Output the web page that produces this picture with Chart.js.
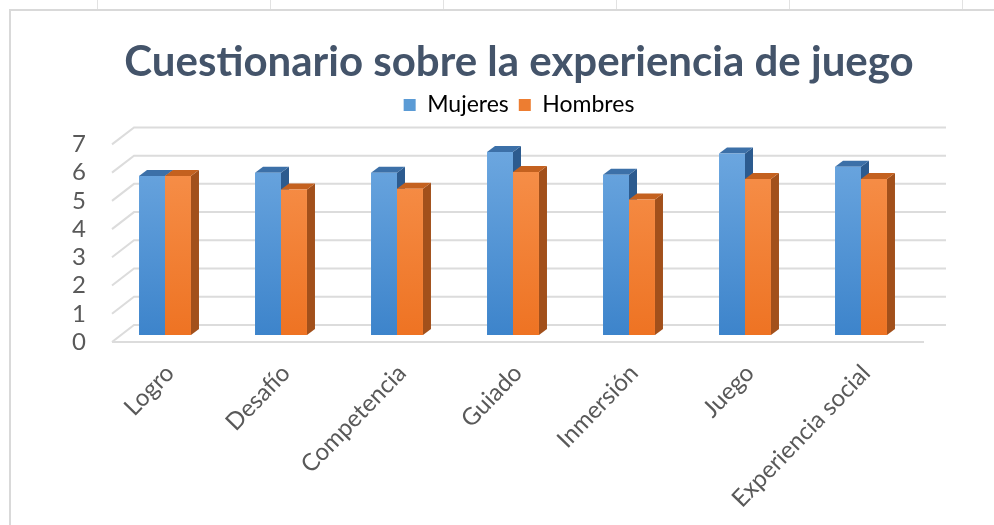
<!DOCTYPE html>
<html>
<head>
<meta charset="utf-8">
<script src="https://cdn.jsdelivr.net/npm/chart.js@4/dist/chart.umd.min.js"></script>
<style>
  html, body { margin: 0; padding: 0; background: #fff; overflow: hidden; }
  #wrap { position: relative; width: 994px; height: 525px; }
</style>
</head>
<body>
<div id="wrap"><canvas id="c" width="994" height="525"></canvas></div>
<script>
// Average scores per dimension of the game-experience questionnaire
const categories = ['Logro', 'Desafío', 'Competencia', 'Guiado', 'Inmersión', 'Juego', 'Experiencia social'];
const seriesNames = ['Mujeres', 'Hombres'];
const mujeres = [5.63, 5.75, 5.75, 6.48, 5.68, 6.43, 5.96];
const hombres = [5.63, 5.15, 5.18, 5.77, 4.80, 5.53, 5.53];
const yTicks = [0, 1, 2, 3, 4, 5, 6, 7];

// 3D look: offsets of the front edge / back wall relative to the bar plane, and bar depth
const FRONT = { dx: 5, dy: 7 };
const BACK = { dx: 27, dy: -10 };
const DEPTH = { dx: 8, dy: -6 };
// empty band between the legend and the plot, where the back wall rises
const WALL_GAP = 11;

const FACE_TOP = ['#6fa9e1', '#f7934f'];
const FACE_BOTTOM = ['#3d84cb', '#ee7323'];
const TOP_FACE = ['#3c70a8', '#c4611f'];
const SIDE_FACE = ['#2c5b8f', '#a2501b'];
const LEGEND_COLORS = ['#5b9bd5', '#ed7d31'];

function frontFill(i) {
  return (ctx) => {
    const area = ctx.chart.chartArea;
    if (!area) return LEGEND_COLORS[i];
    const g = ctx.chart.ctx.createLinearGradient(0, area.top, 0, area.bottom);
    g.addColorStop(0, FACE_TOP[i]);
    g.addColorStop(1, FACE_BOTTOM[i]);
    return g;
  };
}

// Spacer box placed between the legend and the chart area
const wallGap = {
  id: 'wallGap',
  beforeInit(chart) {
    const box = {
      position: 'top',
      weight: 0,
      fullSize: false,
      options: {},
      top: 0, left: 0, right: 0, bottom: 0, width: 0, height: 0,
      isHorizontal() { return true; },
      update(maxWidth) { this.width = maxWidth; this.height = WALL_GAP; },
      draw() {}
    };
    Chart.layouts.addBox(chart, box);
  }
};

// Worksheet frame behind the chart object
const sheetFrame = {
  id: 'sheetFrame',
  beforeDraw(chart) {
    const { ctx, width, height } = chart;
    ctx.save();
    ctx.fillStyle = '#ffffff';
    ctx.fillRect(0, 0, width, height);
    ctx.strokeStyle = '#e2e2e2';
    ctx.lineWidth = 1;
    [97, 270, 443, 616, 789, 962].forEach((cx) => {
      ctx.beginPath();
      ctx.moveTo(cx + 0.5, 0);
      ctx.lineTo(cx + 0.5, 9);
      ctx.stroke();
    });
    ctx.strokeStyle = '#d9d9d9';
    ctx.lineWidth = 2;
    ctx.beginPath();
    ctx.moveTo(10, height);
    ctx.lineTo(10, 10);
    ctx.lineTo(width, 10);
    ctx.stroke();
    ctx.restore();
  }
};

// Back wall gridlines, floor edge and the extruded sides/tops of the columns
const scene3d = {
  id: 'scene3d',
  beforeDatasetsDraw(chart) {
    const { ctx, chartArea: { left, right }, scales: { y } } = chart;
    ctx.save();
    ctx.strokeStyle = '#dcdcdc';
    ctx.lineWidth = 2;
    yTicks.forEach((v) => {
      const py = y.getPixelForValue(v);
      ctx.beginPath();
      ctx.moveTo(left + FRONT.dx, py + FRONT.dy);
      ctx.lineTo(left + BACK.dx, py + BACK.dy);
      ctx.lineTo(right + BACK.dx, py + BACK.dy);
      ctx.stroke();
    });
    const p0 = y.getPixelForValue(0);
    ctx.beginPath();
    ctx.moveTo(left + FRONT.dx, p0 + FRONT.dy);
    ctx.lineTo(right + FRONT.dx, p0 + FRONT.dy);
    ctx.stroke();

    chart.data.datasets.forEach((ds, i) => {
      const meta = chart.getDatasetMeta(i);
      meta.data.forEach((bar) => {
        const { x, y: top, base, width } = bar.getProps(['x', 'y', 'base', 'width'], true);
        const l = x - width / 2;
        const r = x + width / 2;
        ctx.fillStyle = SIDE_FACE[i];
        ctx.beginPath();
        ctx.moveTo(r, top);
        ctx.lineTo(r + DEPTH.dx, top + DEPTH.dy);
        ctx.lineTo(r + DEPTH.dx, base + DEPTH.dy);
        ctx.lineTo(r, base);
        ctx.closePath();
        ctx.fill();
        ctx.fillStyle = TOP_FACE[i];
        ctx.beginPath();
        ctx.moveTo(l, top);
        ctx.lineTo(l + DEPTH.dx, top + DEPTH.dy);
        ctx.lineTo(r + DEPTH.dx, top + DEPTH.dy);
        ctx.lineTo(r, top);
        ctx.closePath();
        ctx.fill();
      });
    });
    ctx.restore();
  }
};

const FONT = 'Lato, "Open Sans", sans-serif';

new Chart(document.getElementById('c'), {
  type: 'bar',
  data: {
    labels: categories,
    datasets: [
      { label: seriesNames[0], data: mujeres, backgroundColor: frontFill(0), borderWidth: 0 },
      { label: seriesNames[1], data: hombres, backgroundColor: frontFill(1), borderWidth: 0 }
    ]
  },
  options: {
    responsive: false,
    animation: false,
    devicePixelRatio: 1,
    layout: { padding: { left: 44, right: 0, top: 0, bottom: 0 } },
    datasets: { bar: { categoryPercentage: 0.448, barPercentage: 1.0 } },
    plugins: {
      title: {
        display: true,
        text: 'Cuestionario sobre la experiencia de juego',
        color: '#44546a',
        font: { family: FONT, size: 42, weight: 'bold' },
        padding: { top: 37, bottom: -4 }
      },
      legend: {
        display: true,
        position: 'top',
        labels: {
          color: '#595959',
          font: { family: FONT, size: 23 },
          boxWidth: 12,
          boxHeight: 12,
          padding: 10,
          generateLabels: (chart) => chart.data.datasets.map((ds, i) => ({
            text: ds.label,
            fillStyle: LEGEND_COLORS[i],
            strokeStyle: LEGEND_COLORS[i],
            lineWidth: 0,
            datasetIndex: i,
            hidden: false
          }))
        }
      },
      tooltip: { enabled: false }
    },
    scales: {
      x: {
        grid: { display: false },
        border: { display: false },
        ticks: {
          autoSkip: false,
          minRotation: 46,
          maxRotation: 46,
          color: '#595959',
          font: { family: FONT, size: 24 },
          padding: 16,
          labelOffset: 5
        },
        afterFit(s) { s.height = 190; }
      },
      y: {
        min: 0,
        max: 7,
        grid: { display: false },
        border: { display: false },
        ticks: {
          stepSize: 1,
          autoSkip: false,
          color: '#595959',
          font: { family: FONT, size: 24 },
          padding: 13,
          labelOffset: 7
        },
        afterFit(s) { s.width = 63; }
      },
      yR: {
        type: 'linear',
        position: 'right',
        display: true,
        grid: { display: false },
        border: { display: false },
        ticks: { display: false },
        afterFit(s) { s.width = 75; }
      }
    }
  },
  plugins: [wallGap, sheetFrame, scene3d]
});
</script>
</body>
</html>
